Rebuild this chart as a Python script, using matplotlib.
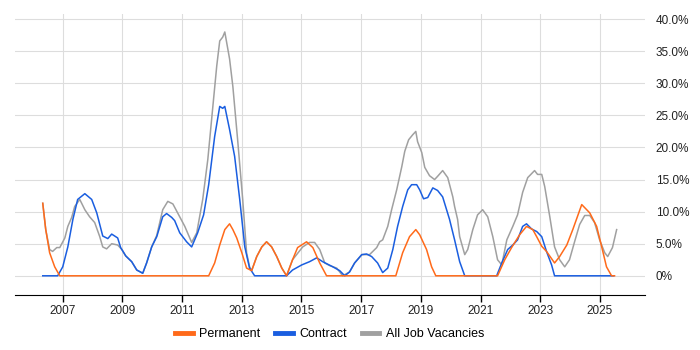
import matplotlib
matplotlib.use("Agg")
from matplotlib import pyplot as plt
from matplotlib.ticker import FuncFormatter

plt.rcParams['font.family'] = ['Liberation Sans', 'DejaVu Sans']

# Permanent
perm_years = [2006.33, 2006.43, 2006.56, 2006.73, 2006.90, 2011.89, 2012.09, 2012.26, 2012.43, 2012.59,
              2012.70, 2012.83, 2013.00, 2013.16, 2013.33, 2013.50, 2013.67, 2013.83, 2014.00, 2014.17,
              2014.34, 2014.50, 2014.70, 2014.87, 2015.17, 2015.38, 2015.61, 2015.84, 2018.16, 2018.39,
              2018.62, 2018.83, 2018.96, 2019.19, 2019.36, 2019.50, 2021.57, 2021.81, 2022.04, 2022.31,
              2022.54, 2022.75, 2022.88, 2023.05, 2023.21, 2023.48, 2023.65, 2023.89, 2024.09, 2024.39,
              2024.66, 2024.89, 2025.06, 2025.22, 2025.39, 2025.49]
perm_vals = [11.3, 7.2, 3.6, 1.4, 0, 0, 2.0, 4.8, 7.2, 8.1,
             7.2, 5.9, 3.6, 1.2, 0.8, 3.0, 4.5, 5.3, 4.5, 3.0,
             1.2, 0, 2.5, 4.4, 5.3, 4.4, 2.0, 0, 0, 3.6,
             6.1, 7.2, 6.4, 4.1, 1.4, 0, 0, 2.5, 4.4, 6.4,
             7.7, 7.2, 6.1, 4.6, 3.8, 2.0, 3.0, 4.8, 7.2, 11.1,
             9.8, 7.7, 4.5, 1.4, 0, 0]

# Contract
contract_years = [2006.33, 2006.83, 2007.00, 2007.17, 2007.34, 2007.50, 2007.74, 2007.97, 2008.14, 2008.34,
                  2008.51, 2008.64, 2008.84, 2008.94, 2009.11, 2009.31, 2009.48, 2009.68, 2009.81, 2009.98,
                  2010.15, 2010.35, 2010.48, 2010.65, 2010.75, 2010.92, 2011.15, 2011.32, 2011.52, 2011.72,
                  2011.89, 2012.09, 2012.26, 2012.36, 2012.43, 2012.59, 2012.76, 2012.93, 2013.10, 2013.26,
                  2013.43, 2014.50, 2014.70, 2015.01, 2015.27, 2015.51, 2015.71, 2016.05, 2016.28, 2016.45,
                  2016.61, 2016.78, 2017.02, 2017.18, 2017.35, 2017.55, 2017.72, 2017.89, 2018.06, 2018.22,
                  2018.39, 2018.56, 2018.69, 2018.86, 2018.96, 2019.09, 2019.23, 2019.40, 2019.56, 2019.73,
                  2019.96, 2020.13, 2020.30, 2020.47, 2021.54, 2021.71, 2021.91, 2022.08, 2022.24, 2022.41,
                  2022.54, 2022.71, 2022.88, 2023.05, 2023.21, 2023.38, 2023.48, 2025.46]
contract_vals = [0, 0, 1.4, 4.5, 8.8, 11.9, 12.8, 11.9, 9.8, 6.2,
                 5.8, 6.5, 5.9, 4.4, 3.1, 2.2, 0.9, 0.4, 2.0, 4.5,
                 6.1, 9.2, 9.7, 9.1, 8.6, 6.7, 5.3, 4.5, 6.7, 9.5,
                 14.2, 21.7, 26.4, 26.1, 26.4, 22.8, 18.6, 11.9, 4.5, 1.2,
                 0, 0, 0.9, 1.7, 2.2, 2.8, 2.2, 1.4, 0.8, 0,
                 0.6, 2.0, 3.3, 3.4, 3.0, 2.0, 0.5, 1.2, 4.1, 7.7,
                 10.8, 13.4, 14.2, 14.2, 13.4, 12.0, 12.2, 13.7, 13.3, 12.3,
                 8.8, 5.6, 2.2, 0, 0, 2.0, 4.1, 4.8, 5.6, 7.7,
                 8.1, 7.3, 6.9, 6.1, 3.8, 1.7, 0, 0]

# All Job Vacancies
all_years = [2006.33, 2006.43, 2006.56, 2006.66, 2006.80, 2006.90, 2007.07, 2007.17, 2007.30, 2007.40,
             2007.57, 2007.74, 2007.90, 2008.07, 2008.24, 2008.34, 2008.47, 2008.64, 2008.84, 2008.98,
             2009.11, 2009.31, 2009.48, 2009.68, 2009.81, 2009.98, 2010.15, 2010.35, 2010.52, 2010.69,
             2010.85, 2011.09, 2011.32, 2011.49, 2011.69, 2011.86, 2012.03, 2012.16, 2012.26, 2012.36,
             2012.43, 2012.59, 2012.70, 2012.86, 2013.03, 2013.16, 2013.26, 2013.33, 2013.50, 2013.67,
             2013.83, 2014.00, 2014.17, 2014.34, 2014.50, 2014.70, 2015.04, 2015.27, 2015.44, 2015.61,
             2015.78, 2015.94, 2016.18, 2016.38, 2016.61, 2016.78, 2017.02, 2017.28, 2017.52, 2017.62,
             2017.72, 2017.89, 2018.02, 2018.19, 2018.36, 2018.46, 2018.59, 2018.73, 2018.83, 2018.89,
             2019.03, 2019.13, 2019.29, 2019.46, 2019.56, 2019.73, 2019.90, 2020.07, 2020.13, 2020.23,
             2020.30, 2020.47, 2020.57, 2020.74, 2020.90, 2021.07, 2021.24, 2021.41, 2021.57, 2021.71,
             2021.88, 2022.08, 2022.24, 2022.41, 2022.58, 2022.81, 2022.91, 2023.05, 2023.15, 2023.32,
             2023.48, 2023.65, 2023.82, 2023.98, 2024.15, 2024.32, 2024.49, 2024.66, 2024.82, 2024.99,
             2025.16, 2025.26, 2025.42, 2025.56]
all_vals = [11.3, 7.2, 4.1, 3.8, 4.4, 4.4, 5.9, 7.7, 9.1, 10.8,
            11.9, 10.3, 9.2, 8.3, 6.1, 4.5, 4.2, 5.0, 4.8, 4.1,
            3.1, 2.2, 0.9, 0.4, 2.0, 4.5, 6.3, 10.3, 11.6, 11.2,
            9.8, 7.7, 5.2, 6.7, 11.9, 18.1, 26.4, 32.7, 36.6, 37.2,
            38.0, 33.8, 29.5, 21.2, 11.9, 3.6, 1.4, 0.8, 3.0, 4.5,
            5.3, 4.5, 3.0, 1.2, 0, 2.5, 4.5, 5.2, 5.2, 4.1,
            2.0, 1.6, 1.2, 0, 0.6, 2.0, 3.3, 3.3, 4.4, 5.3,
            5.6, 7.7, 10.3, 13.4, 17.0, 19.4, 21.2, 22.0, 22.5, 20.9,
            19.2, 16.9, 15.6, 15.0, 15.5, 16.4, 15.3, 12.3, 10.8, 8.8,
            6.1, 3.3, 4.1, 7.2, 9.5, 10.3, 9.2, 6.1, 2.5, 1.7,
            5.6, 7.7, 9.5, 13.0, 15.3, 16.4, 15.8, 15.8, 13.9, 9.2,
            4.5, 2.5, 1.4, 2.5, 5.3, 8.0, 9.4, 9.4, 8.3, 5.6,
            3.6, 3.0, 4.4, 7.2]

year_ticks = [2007, 2009, 2011, 2013, 2015, 2017, 2019, 2021, 2023, 2025]
pct_ticks = [0, 5, 10, 15, 20, 25, 30, 35, 40]

fig = plt.figure(figsize=(7, 3.5), dpi=100)
ax = fig.add_axes([0.021, 0.157, 0.9, 0.803])

ax.plot(all_years, all_vals, color='#a0a0a0', lw=1.1, label='All Job Vacancies', zorder=2)
ax.plot(contract_years, contract_vals, color='#1a5ee0', lw=1.1, label='Contract', zorder=3)
ax.plot(perm_years, perm_vals, color='#ff6a1a', lw=1.1, label='Permanent', zorder=4)

ax.set_xlim(2005.39, 2026.5)
ax.set_ylim(-3, 40.8)
ax.set_xticks(year_ticks)
ax.set_xticklabels([str(y) for y in year_ticks])
ax.set_yticks(pct_ticks)
ax.yaxis.set_major_formatter(FuncFormatter(lambda v, p: '0%' if v == 0 else '%.1f%%' % v))
ax.yaxis.tick_right()
ax.tick_params(axis='y', length=0, pad=8, labelsize=8.5, labelcolor='#222222')
ax.tick_params(axis='x', length=5, width=1, labelsize=8.5, labelcolor='#222222', pad=2)
ax.grid(True, color='#dddddd', lw=0.8)
ax.set_axisbelow(True)
for s in ['top', 'left', 'right']:
    ax.spines[s].set_visible(False)
ax.spines['bottom'].set_color('#000000')

h, l = ax.get_legend_handles_labels()
order = [2, 1, 0]
leg = fig.legend([h[i] for i in order], [l[i] for i in order], loc='center', bbox_to_anchor=(0.471, 0.045),
                 ncol=3, frameon=False, fontsize=9, handlelength=1.4, columnspacing=1.2, handletextpad=0.5)
for line in leg.get_lines():
    line.set_linewidth(3.5)

fig.savefig('out.png', dpi=100)
